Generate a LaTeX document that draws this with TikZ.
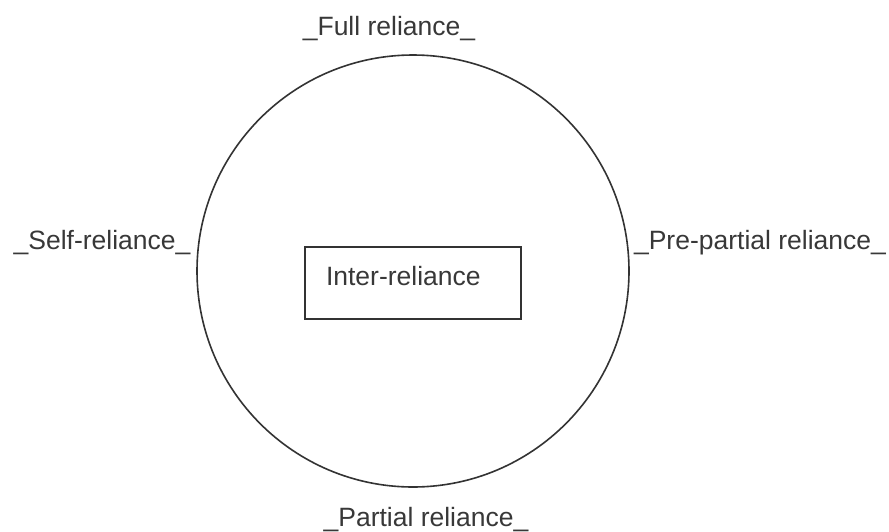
\documentclass[tikz,border=0pt]{standalone}
\usepackage{fontspec}
\setmainfont{Liberation Sans}
\begin{document}
\begin{tikzpicture}[x=1pt,y=-1pt,
  ink/.style={draw=black!80, line width=1.6pt},
  lbl/.style={inner sep=0pt, outer sep=0pt, text=black!78, font=\fontsize{26.5}{30}\selectfont}]
\useasboundingbox (0,0) rectangle (889,531);
\node[ink, circle, inner sep=0pt, outer sep=0pt, minimum size=432pt] (ring) at (413,271) {};
\node[ink, rectangle, inner sep=0pt, outer sep=0pt, minimum width=216pt, minimum height=72pt] (box) at (413,283) {};
\node[lbl, anchor=base west] (inter) at (326,285) {Inter-reliance};
\node[lbl, anchor=base] (full) at (389,35) {\_Full reliance\_};
\node[lbl, anchor=base] (partial) at (426,526) {\_Partial reliance\_};
\node[lbl, anchor=base] (self) at (102,249) {\_Self-reliance\_};
\node[lbl, anchor=base] (pre) at (760,249) {\_Pre-partial reliance\_};
\end{tikzpicture}
\end{document}
